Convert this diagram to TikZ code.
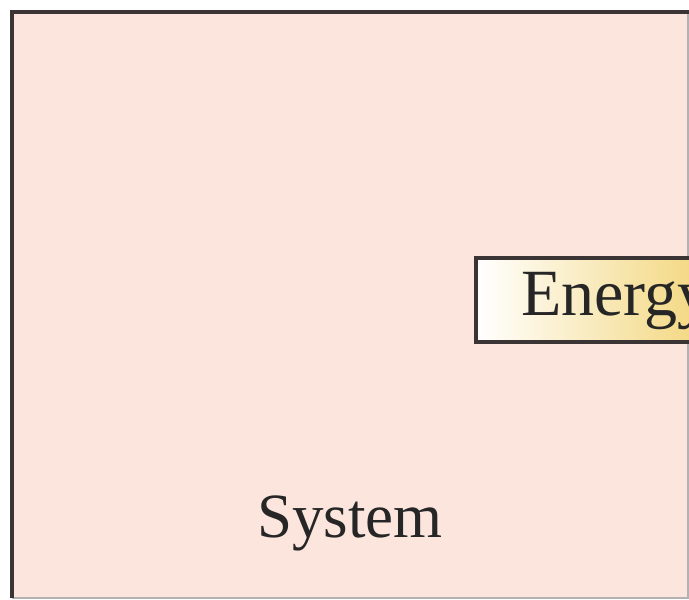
\documentclass[tikz,border=0pt]{standalone}
\usepackage{fontspec}
\setmainfont{Liberation Serif}
\begin{document}
\begin{tikzpicture}[x=1pt,y=-1pt,
  lbl/.style={font=\fontsize{63}{68}\selectfont, text=black!85, inner sep=0pt, anchor=base west}]
\useasboundingbox (0,0) rectangle (689,600);
\clip (0,0) rectangle (689,600);
\definecolor{sysfill}{HTML}{FCE5DD}
\definecolor{edge}{HTML}{3A3534}
% system box
\fill[sysfill] (12,12) rectangle (688,598);
\draw[black!30, line width=1.2pt] (688,12) -- (688,598) -- (12,598);
\draw[edge, line width=3.5pt] (12,598) -- (12,12) -- (689,12);
\node[lbl] (system) at (257,537) {System};
% energy box
\shade[left color=white, right color={rgb,255:red,240;green,205;blue,95}]
  (476,258) rectangle (760,342);
\draw[edge, line width=3.2pt] (476,258) rectangle (760,342);
\node[lbl, font=\fontsize{66}{70}\selectfont] (energy) at (521,315) {Energy};
\end{tikzpicture}
\end{document}
